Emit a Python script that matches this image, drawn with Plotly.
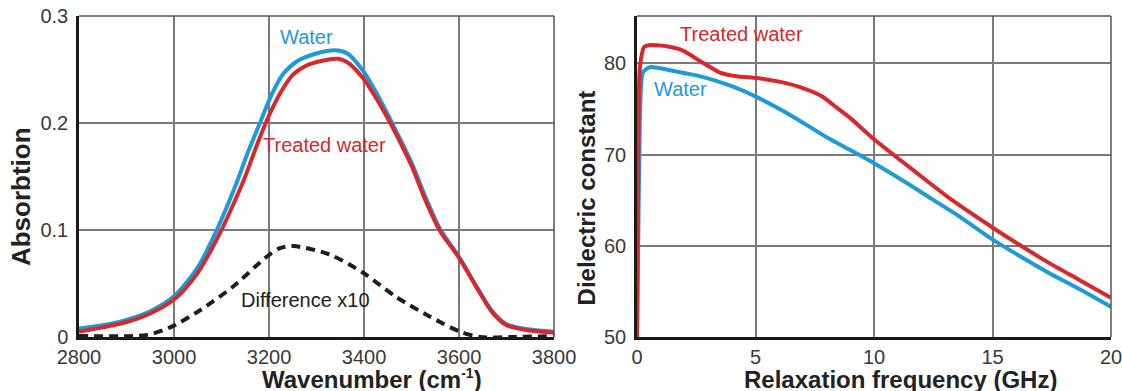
import plotly.graph_objects as go

# ---- Left panel: IR absorption ----
wn_water = [2800, 2850, 2900, 2950, 3000, 3050, 3090, 3130, 3155, 3180, 3205, 3230, 3260, 3300, 3340,
            3365, 3396, 3430, 3459, 3500, 3530, 3560, 3600, 3640, 3670, 3700, 3750, 3800]
abs_water = [0.008, 0.011, 0.016, 0.024, 0.038, 0.065, 0.100, 0.142, 0.172, 0.199, 0.226, 0.246, 0.258, 0.265, 0.268,
             0.265, 0.250, 0.225, 0.200, 0.163, 0.130, 0.101, 0.075, 0.045, 0.024, 0.012, 0.007, 0.005]

wn_treated = [2800, 2850, 2900, 2950, 3000, 3050, 3100, 3125, 3150, 3175, 3200, 3225, 3250, 3280, 3310, 3345,
              3364, 3396, 3430, 3459, 3500, 3530, 3560, 3600, 3640, 3670, 3700, 3750, 3800]
abs_treated = [0.005, 0.009, 0.014, 0.022, 0.035, 0.060, 0.100, 0.124, 0.150, 0.180, 0.207, 0.229, 0.245, 0.254, 0.258, 0.260,
               0.257, 0.243, 0.220, 0.197, 0.160, 0.127, 0.099, 0.074, 0.044, 0.023, 0.011, 0.006, 0.004]

wn_diff = [2800, 2943, 2992, 3055, 3124, 3195, 3223, 3251, 3328, 3398, 3469, 3539, 3602, 3644, 3714, 3800]
abs_diff = [0.001, 0.002, 0.009, 0.025, 0.047, 0.075, 0.083, 0.085, 0.077, 0.060, 0.037, 0.019, 0.005, 0.000, 0.000, 0.001]

wn_ticks = [2800, 3000, 3200, 3400, 3600, 3800]
abs_ticks = [0, 0.1, 0.2, 0.3]
abs_ticklabels = ["0", "0.1", "0.2", "0.3"]

# ---- Right panel: dielectric constant ----
f_water = [0.0, 0.05, 0.1, 0.25, 0.55, 1.5, 2.8, 4.0, 5.06, 6.5, 8.0, 9.0, 10.04, 11.5, 12.4, 13.5, 15.06, 16.2, 17.4, 18.7, 20.0]
eps_water = [50.0, 60.0, 70.0, 79.0, 79.6, 79.2, 78.5, 77.5, 76.3, 74.3, 71.9, 70.5, 69.0, 66.7, 65.2, 63.4, 60.6, 58.8, 57.0, 55.2, 53.3]

f_treated = [0.0, 0.03, 0.06, 0.12, 0.3, 0.5, 1.2, 1.94, 2.7, 3.5, 4.2, 5.06, 6.0, 7.0, 7.8, 8.4, 9.0, 10.04, 11.8, 13.3,
             15.06, 16.2, 17.4, 18.7, 20.0]
eps_treated = [50.0, 62.0, 72.0, 79.5, 81.8, 82.0, 81.9, 81.4, 80.2, 79.0, 78.6, 78.4, 78.0, 77.3, 76.4, 75.2, 74.0, 71.6, 68.0, 65.0,
               61.9, 60.0, 58.1, 56.2, 54.3]

f_ticks = [0, 5, 10, 15, 20]
eps_ticks = [50, 60, 70, 80]

BLUE = "#1d9ad9"
RED = "#d7282c"
GRID = "#7a7a7a"
AXIS = "#1a1a1a"
FAMILY = "Liberation Sans, Arial, sans-serif"
TICKFONT = dict(family=FAMILY, size=20, color="#3a3a3a")
TITLEFONT = dict(family=FAMILY, size=24, color="#222222")
LABELFONT = dict(family=FAMILY, size=20)

fig = go.Figure()

fig.add_trace(go.Scatter(x=wn_water, y=abs_water, mode="lines", line=dict(color=BLUE, width=4, shape="spline", smoothing=0.8),
                         xaxis="x", yaxis="y", showlegend=False, name="Water"))
fig.add_trace(go.Scatter(x=wn_treated, y=abs_treated, mode="lines", line=dict(color=RED, width=4, shape="spline", smoothing=0.8),
                         xaxis="x", yaxis="y", showlegend=False, name="Treated water"))
fig.add_trace(go.Scatter(x=wn_diff, y=abs_diff, mode="lines",
                         line=dict(color="#1e1e1e", width=4, dash="9px,6px", shape="spline", smoothing=0.8),
                         xaxis="x", yaxis="y", showlegend=False, name="Difference x10"))

fig.add_trace(go.Scatter(x=f_water, y=eps_water, mode="lines", line=dict(color=BLUE, width=4, shape="spline", smoothing=0.6),
                         xaxis="x2", yaxis="y2", showlegend=False, name="Water"))
fig.add_trace(go.Scatter(x=f_treated, y=eps_treated, mode="lines", line=dict(color=RED, width=4, shape="spline", smoothing=0.6),
                         xaxis="x2", yaxis="y2", showlegend=False, name="Treated water"))

axis_common = dict(showgrid=True, gridcolor=GRID, gridwidth=1.5, zeroline=False, showline=True, linecolor=AXIS,
                   linewidth=2.5, ticks="", tickfont=TICKFONT, automargin=False, ticklabeloverflow="allow")

fig.update_layout(
    width=1122, height=391,
    margin=dict(l=79, r=11, t=16, b=54, pad=0),
    paper_bgcolor="white", plot_bgcolor="white",
    xaxis=dict(domain=[0, 0.4603], range=[2800, 3800], tickvals=wn_ticks, anchor="y", **axis_common),
    yaxis=dict(domain=[0, 1], range=[0, 0.3], tickvals=abs_ticks, ticktext=abs_ticklabels, anchor="x",
               ticklabelstandoff=4, **axis_common),
    xaxis2=dict(domain=[0.5407, 1], range=[0, 20], tickvals=f_ticks, anchor="y2", **axis_common),
    yaxis2=dict(domain=[0, 1], range=[50, 85.2], tickvals=eps_ticks, anchor="x2", ticklabelstandoff=4, **axis_common),
)

# top/right frame lines (thin grey)
for xr, yr in (("x domain", "y domain"), ("x2 domain", "y2 domain")):
    fig.add_shape(type="line", xref=xr, yref=yr, x0=0, x1=1, y0=1, y1=1, line=dict(color="#555555", width=1.5))
    fig.add_shape(type="line", xref=xr, yref=yr, x0=1, x1=1, y0=0, y1=1, line=dict(color="#555555", width=1.5))

# axis titles
fig.add_annotation(x=0.2839, y=-0.131, xref="paper", yref="paper",
                   text="<b>Wavenumber (cm<sup><span style='font-size:14px'>-1</span></sup>)</b>",
                   showarrow=False, font=TITLEFONT, xanchor="center", yanchor="middle")
fig.add_annotation(x=0.7965, y=-0.131, xref="paper", yref="paper", text="<b>Relaxation frequency (GHz)</b>",
                   showarrow=False, font=TITLEFONT, xanchor="center", yanchor="middle")
fig.add_annotation(x=-0.0562, y=0.436, xref="paper", yref="paper", text="<b>Absorbtion</b>", textangle=-90,
                   showarrow=False, font=dict(family=FAMILY, size=26, color="#222222"), xanchor="center", yanchor="middle")
fig.add_annotation(x=0.4922, y=0.4346, xref="paper", yref="paper", text="<b>Dielectric constant</b>", textangle=-90,
                   showarrow=False, font=TITLEFONT, xanchor="center", yanchor="middle")

# curve labels
fig.add_annotation(x=3219, y=0.2804, xref="x", yref="y", text="Water", showarrow=False,
                   font=dict(color=BLUE, **LABELFONT), xanchor="left", yanchor="middle")
fig.add_annotation(x=3183, y=0.1794, xref="x", yref="y", text="Treated water", showarrow=False,
                   font=dict(color=RED, **LABELFONT), xanchor="left", yanchor="middle")
fig.add_annotation(x=3137, y=0.0346, xref="x", yref="y", text="Difference x10", showarrow=False,
                   font=dict(color="#222222", **LABELFONT), xanchor="left", yanchor="middle")
fig.add_annotation(x=1.75, y=83.19, xref="x2", yref="y2", text="Treated water", showarrow=False,
                   font=dict(color=RED, **LABELFONT), xanchor="left", yanchor="middle")
fig.add_annotation(x=0.62, y=77.16, xref="x2", yref="y2", text="Water", showarrow=False,
                   font=dict(color=BLUE, **LABELFONT), xanchor="left", yanchor="middle")

# remove the browser's default 8px body margin so the figure fills the window exactly
fig.write_html("out.html", config={"displayModeBar": False},
               post_script="document.body.style.margin='0';document.body.style.overflow='hidden';")
